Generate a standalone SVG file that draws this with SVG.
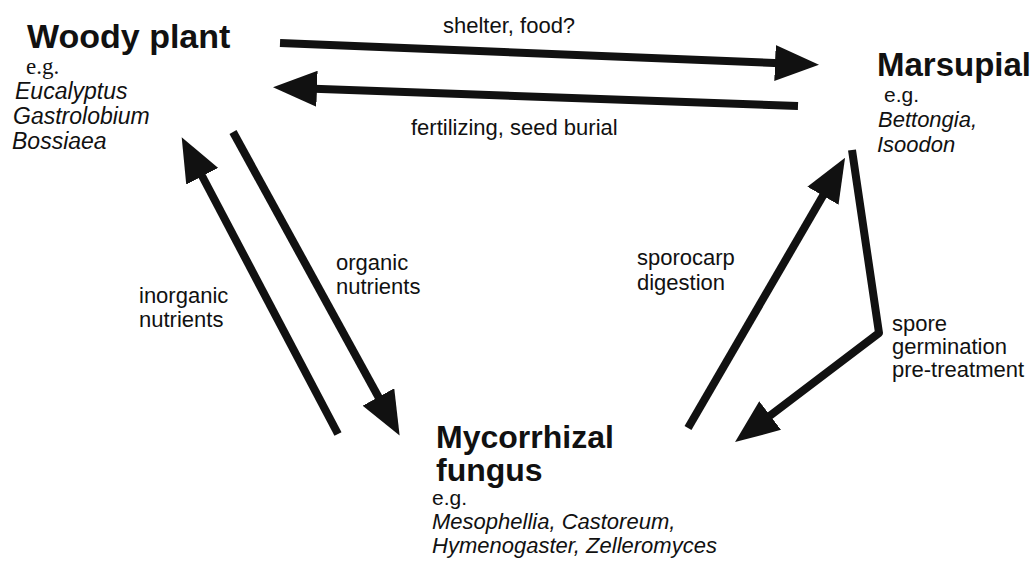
<svg xmlns="http://www.w3.org/2000/svg" width="1032" height="564" viewBox="0 0 1032 564">
<style>
.title{font-family:"Liberation Sans",Arial,sans-serif;font-weight:bold;font-size:33px;fill:#111}
.lbl{font-family:"Liberation Sans",Arial,sans-serif;font-size:22px;fill:#111}
.eg{font-family:"Liberation Sans",Arial,sans-serif;font-size:21px;fill:#111}
.egs{font-family:"Liberation Serif","Times New Roman",serif;font-size:23px;fill:#111}
.sp{font-family:"Liberation Sans",Arial,sans-serif;font-style:italic;font-size:22px;fill:#111}
.arr{fill:none;stroke:#111;stroke-width:8;stroke-linejoin:round}
</style>
<defs>
<marker id="head" viewBox="0 0 44 36" refX="24" refY="18" markerWidth="44" markerHeight="36" markerUnits="userSpaceOnUse" orient="auto">
<path d="M0,0 L44,18 L0,36 z" fill="#111"/>
</marker>
</defs>
<rect width="1032" height="564" fill="#fff"/>
<g id="woody-plant">
<text class="title" x="27" y="48" style="font-size:34px">Woody plant</text>
<text class="egs" x="26" y="74">e.g.</text>
<text class="sp" x="15" y="99" style="font-size:23px">Eucalyptus</text>
<text class="sp" x="13" y="124" style="font-size:23px">Gastrolobium</text>
<text class="sp" x="12" y="149" style="font-size:23px">Bossiaea</text>
</g>
<g id="marsupial">
<text class="title" x="877" y="76">Marsupial</text>
<text class="eg" x="884" y="102">e.g.</text>
<text class="sp" x="878" y="127">Bettongia,</text>
<text class="sp" x="877" y="152">Isoodon</text>
</g>
<g id="mycorrhizal-fungus">
<text class="title" x="436" y="448" style="font-size:32px">Mycorrhizal</text>
<text class="title" x="436" y="481" style="font-size:32px">fungus</text>
<text class="eg" x="432" y="505">e.g.</text>
<text class="sp" x="432" y="529">Mesophellia, Castoreum,</text>
<text class="sp" x="432" y="553">Hymenogaster, Zelleromyces</text>
</g>
<g id="connectors">
<line class="arr" x1="280" y1="43" x2="799" y2="64" marker-end="url(#head)"/>
<line class="arr" x1="798" y1="106" x2="293" y2="88" marker-end="url(#head)"/>
<line class="arr" x1="338" y1="434" x2="191" y2="155" marker-end="url(#head)"/>
<line class="arr" x1="233" y1="132" x2="390" y2="418" marker-end="url(#head)"/>
<line class="arr" x1="688" y1="428" x2="835" y2="175" marker-end="url(#head)"/>
<polyline class="arr" points="852,150 879,333 751,430" marker-end="url(#head)"/>
</g>
<g id="labels">
<text class="lbl" x="443" y="33">shelter, food?</text>
<text class="lbl" x="411" y="135">fertilizing, seed burial</text>
<text class="lbl" x="139" y="303">inorganic</text>
<text class="lbl" x="139" y="327">nutrients</text>
<text class="lbl" x="336" y="270">organic</text>
<text class="lbl" x="336" y="294">nutrients</text>
<text class="lbl" x="637" y="265">sporocarp</text>
<text class="lbl" x="637" y="290">digestion</text>
<text class="lbl" x="892" y="331">spore</text>
<text class="lbl" x="892" y="354">germination</text>
<text class="lbl" x="892" y="377">pre-treatment</text>
</g>
</svg>
